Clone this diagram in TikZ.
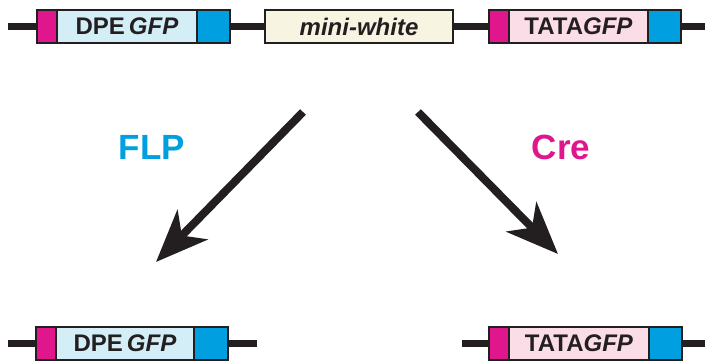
\documentclass[tikz,border=0pt]{standalone}
\usepackage{fontspec}
\setmainfont{Liberation Sans}
\usetikzlibrary{arrows.meta}
\definecolor{ink}{HTML}{231F20}
\definecolor{mag}{HTML}{E0168C}
\definecolor{cyn}{HTML}{00A0E0}
\definecolor{dpefill}{HTML}{D4EEF8}
\definecolor{tatafill}{HTML}{FBDDE8}
\definecolor{creamfill}{HTML}{F7F4E1}
\tikzset{
  seg/.style={draw=ink, line width=2.2pt, rectangle, inner sep=0pt, minimum height=33pt},
  segtext/.style={seg, font=\fontsize{24}{24}\selectfont\bfseries, text=ink},
  dna/.style={draw=ink, line width=7.5pt},
  bigarrow/.style={draw=ink, fill=ink, line width=8pt,
    -{Stealth[length=52pt, width=42pt, inset=15pt]}},
  enzyme/.style={font=\fontsize{35}{35}\selectfont\bfseries}
}
\begin{document}
\begin{tikzpicture}[x=1pt, y=-1pt]
\useasboundingbox (0,0) rectangle (705,361);

% top construct
\node[seg, fill=mag, minimum width=20pt] (tlm) at (47,26.5) {};
\node[segtext, fill=dpefill, minimum width=140pt] (tlb) at (127,26.5) {DPE\,\textit{GFP}};
\node[seg, fill=cyn, minimum width=33pt] (tlc) at (213.5,26.5) {};
\node[segtext, fill=creamfill, minimum width=188pt] (mw) at (359,26.5) {\textit{mini-white}};
\node[seg, fill=mag, minimum width=20pt] (trm) at (499,26.5) {};
\node[segtext, fill=tatafill, minimum width=139pt] (trb) at (578.5,26.5) {TATA\textit{GFP}};
\node[seg, fill=cyn, minimum width=33pt] (trc) at (664.5,26.5) {};
\coordinate (topL) at (8,26.5);
\coordinate (topR) at (706,26.5);
\draw[dna] (topL) -- (tlm.west);
\draw[dna] (tlc.east) -- (mw.west);
\draw[dna] (mw.east) -- (trm.west);
\draw[dna] (trc.east) -- (topR);

% FLP product
\node[seg, fill=mag, minimum width=20pt] (blm) at (46,343.5) {};
\node[segtext, fill=dpefill, minimum width=138pt] (blb) at (125,343.5) {DPE\,\textit{GFP}};
\node[seg, fill=cyn, minimum width=34pt] (blc) at (211,343.5) {};
\coordinate (botLL) at (8,343.5);
\coordinate (botLR) at (257,343.5);
\draw[dna] (botLL) -- (blm.west);
\draw[dna] (blc.east) -- (botLR);

% Cre product
\node[seg, fill=mag, minimum width=20pt] (brm) at (499,343.5) {};
\node[segtext, fill=tatafill, minimum width=140pt] (brb) at (579,343.5) {TATA\textit{GFP}};
\node[seg, fill=cyn, minimum width=33pt] (brc) at (665.5,343.5) {};
\coordinate (botRL) at (462,343.5);
\coordinate (botRR) at (706,343.5);
\draw[dna] (botRL) -- (brm.west);
\draw[dna] (brc.east) -- (botRR);

% recombination arrows
\coordinate (flpFrom) at (303,112);
\coordinate (flpTo) at (156,262);
\coordinate (creFrom) at (418,112);
\coordinate (creTo) at (558,254);
\draw[bigarrow] (flpFrom) -- (flpTo);
\draw[bigarrow] (creFrom) -- (creTo);

\node[enzyme, text=cyn] (flp) at (152,147) {FLP};
\node[enzyme, text=mag] (cre) at (561,147) {Cre};
\end{tikzpicture}
\end{document}
